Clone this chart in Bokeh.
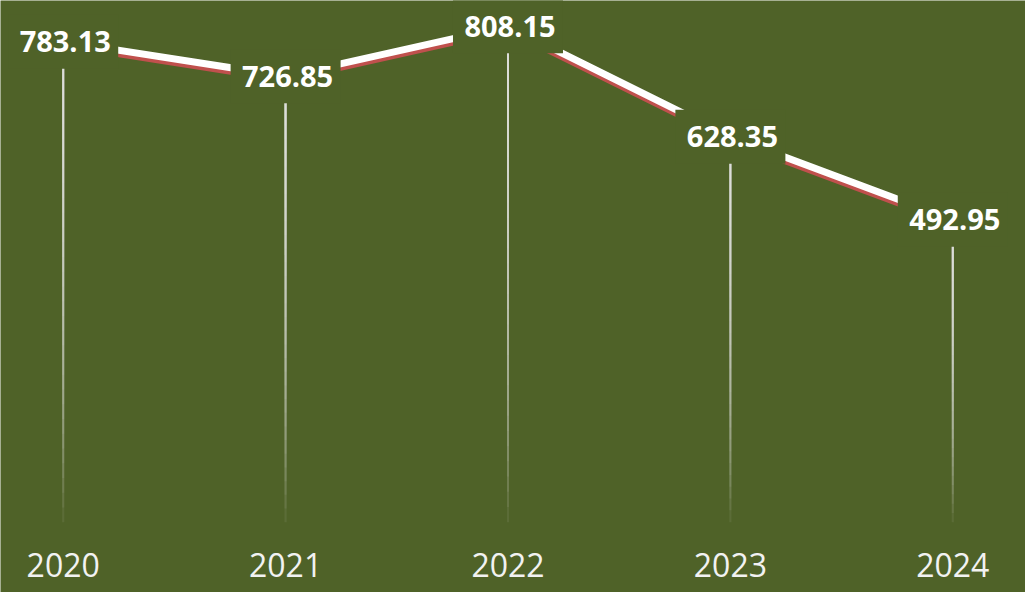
import numpy as np
from bokeh.plotting import figure
from bokeh.models import Range1d
from bokeh.core.properties import value
from bokeh.embed import file_html
from bokeh.resources import INLINE

# ---- data ----
years = ["2020", "2021", "2022", "2023", "2024"]
values = [783.13, 726.85, 808.15, 628.35, 492.95]
value_labels = ["783.13", "726.85", "808.15", "628.35", "492.95"]

# ---- style ----
BG = "#4F6228"
RED = "#C0504D"
WHITE = "#FFFFFF"
LIGHT = "#F2F2F2"

W, H = 1025, 592
x = list(range(len(years)))

y_start, y_end = -114.6, 850.2
p = figure(width=W, height=H, output_backend="svg", toolbar_location=None,
           x_range=Range1d(-0.282, 4.327), y_range=Range1d(y_start, y_end),
           x_axis_type=None, y_axis_type=None, min_border=0)
p.background_fill_color = BG
p.border_fill_color = BG
p.outline_line_color = None
p.xgrid.visible = False
p.ygrid.visible = False

# shadow range: shifted so the red line sits a few pixels lower
units_per_px = (y_end - y_start) / H
shift = 3.5 * units_per_px
p.extra_y_ranges = {"shadow": Range1d(y_start + shift, y_end + shift)}

# drop lines fading toward the baseline (stacked translucent segments)
N = 30
x0s, y0s, x1s, y1s = [], [], [], []
for xi, v in zip(x, values):
    for k in range(N):
        t = 0.92 * k / N
        x0s.append(xi); x1s.append(xi)
        y0s.append(v * t); y1s.append(v)
p.segment(x0s, y0s, x1s, y1s, line_color=LIGHT, line_width=2.2, line_alpha=0.075)

# main line: red shadow + white line
p.line(x, values, line_color=RED, line_width=7, y_range_name="shadow")
p.line(x, values, line_color=WHITE, line_width=7)

# label boxes
p.rect(x, values, width=110, height=54, width_units="screen", height_units="screen",
       fill_color=BG, line_color=None)

# value labels
p.text(x, values, text=value_labels, text_align="center", text_baseline="middle",
       text_color=WHITE, text_font=value("Open Sans"), text_font_style="bold",
       text_font_size="29px", x_offset=2)

# year labels
p.text(x, [0] * len(x), text=years, text_align="center", text_baseline="middle",
       text_color=LIGHT, text_font=value("Open Sans"), text_font_size="32px",
       y_offset=43)

open("out.html", "w").write(file_html(p, INLINE))
